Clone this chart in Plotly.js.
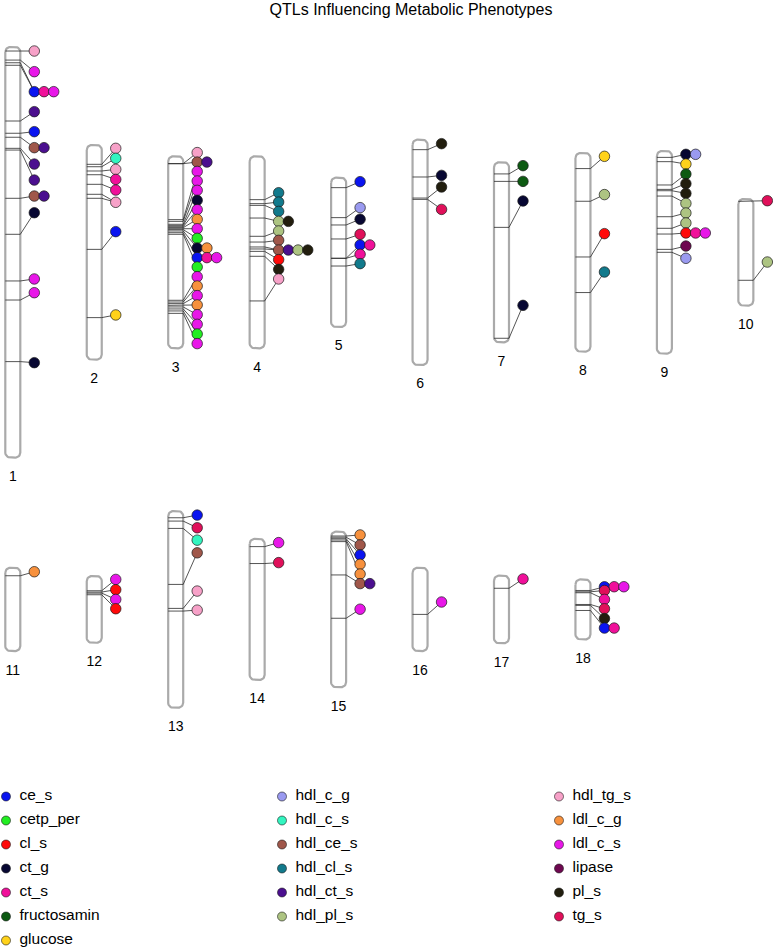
<!DOCTYPE html>
<html>
<head>
<meta charset="utf-8">
<script src="https://cdn.plot.ly/plotly-3.0.1.min.js"></script>
<style>
html,body{margin:0;padding:0;background:#ffffff;}
#chart{width:773px;height:949px;}
</style>
</head>
<body>
<div id="chart"></div>
<script>
// ---------------- DATA ----------------
const chartTitle = 'QTLs Influencing Metabolic Phenotypes';

const traitNames = ['ce_s','cetp_per','cl_s','ct_g','ct_s','fructosamin','glucose',
  'hdl_c_g','hdl_c_s','hdl_ce_s','hdl_cl_s','hdl_ct_s','hdl_pl_s',
  'hdl_tg_s','ldl_c_g','ldl_c_s','lipase','pl_s','tg_s'];
const traitColors = ['#0a14f0','#22ee22','#ff0a0a','#070732','#f0109a','#0d5a12','#ffd21a',
  '#9a9af0','#33f5c0','#a0574a','#127a8c','#4b0f8f','#adc482',
  '#f7a1c8','#f7913d','#e817e8','#6e0850','#221e0e','#e0105a'];

const chromNames = ['1','2','3','4','5','6','7','8','9','10','11','12','13','14','15','16','17','18'];
const chromLengthMb = [308,161,144,144,112,169,135,149,152,80,62.5,50,147.5,105.8,116.7,62.5,50.7,45];

// QTL positions on each chromosome (Mb from top) and the index of the phenotype row they link to
const qtlPosMb = [
  [3.0,9.8,11.8,13.7,55.5,64.7,67.7,76,77.3,113.5,140.5,175.5,189.8,236],
  [14.5,16.3,19.5,22.3,29.5,37,40,78.3,129.5],
  [5.5,5.5,47.5,48.8,51,52,52.8,53.5,54.3,55,56,57.3,58.5,108,109.3,110.5,111.8,113,114.5,116,117.8],
  [32.5,35.5,36.8,46.3,60,64.3,68,69.5,71.3,75,108.5],
  [7.5,30,35.5,46,60.5,60.5,66.3],
  [7.5,28,43.8,44.8],
  [8.7,14.3,48.8,132],
  [11.7,36.2,78,104.7],
  [4.8,8,25.5,28.8,29.8,33.8,49.3,58,62.3,73.8,76],
  [1.8,61],
  [6],
  [11,12,12.8,14],
  [5,7.5,13,55,73,75],
  [5.8,18.5],
  [3.3,4.2,5.3,6.3,7.5,32.5,65],
  [35],
  [9.5],
  [8.3,9.3,10,18.8,19.5,23.3]
];
const qtlGroup = [
  [0,1,2,2,3,4,5,6,7,8,9,10,11,12],
  [0,1,2,3,4,5,5,6,7],
  [0,1,2,3,4,5,6,7,8,9,10,11,12,13,14,15,16,17,18,19,20],
  [0,1,2,3,4,5,6,6,7,8,9],
  [0,1,2,3,4,5,6],
  [0,1,2,3],
  [0,1,2,3],
  [0,1,2,3],
  [0,1,2,3,4,5,6,7,8,9,10],
  [0,1],
  [0],
  [0,1,2,3],
  [0,1,2,3,4,5],
  [0,1],
  [0,1,2,3,4,5,6],
  [0],
  [0],
  [0,1,2,3,4,5]
];

// Phenotype rows: position (Mb from top) and traits in the row
const grpPosMb = [
  [3.0,18.5,33.5,48.5,63.5,75.5,87.8,99.8,111.8,124.3,174,184.3,236.8],
  [2.5,10,18.3,25.8,33.8,43,65,127.5],
  [-2.8,4.3,11.3,18.5,25.5,33,40,47.3,54.3,61.5,68.8,76,83,90.3,97.3,104.5,111.5,118.8,126,133.3,140.5],
  [27.3,34.3,41.3,48.8,56,63,70.3,77.5,84.8,92],
  [3,22.5,31.2,42.5,50.5,57.5,64.5],
  [3,26.8,35.5,52.3],
  [2.5,14.3,29,107.3],
  [2.5,31.2,60.5,89.3],
  [2.5,9.8,17.3,24.5,31.8,39.3,46.5,54,61.5,71.3,80.5],
  [1.3,47.3],
  [3],
  [2.5,10.2,17.5,24.5],
  [3,12.5,21.8,31.3,60,74.3],
  [2.8,17.8],
  [2.5,10,17.5,24.5,31.8,39,58.2],
  [25.7],
  [2.5],
  [5.5,8.3,15,22,29.3,36.5]
];
const grpTraits = [
  ['hdl_tg_s','ldl_c_s','ce_s ct_s ldl_c_s','hdl_ct_s','ce_s','hdl_ce_s hdl_ct_s','hdl_ct_s','hdl_ct_s','hdl_ce_s hdl_ct_s','ct_g','ldl_c_s','ldl_c_s','ct_g'],
  ['hdl_tg_s','hdl_c_s','hdl_tg_s','ct_s','ct_s','hdl_tg_s','ce_s','glucose'],
  ['hdl_tg_s','hdl_ce_s hdl_ct_s','ldl_c_s','ldl_c_s','ldl_c_s','ct_g','ldl_c_s','ldl_c_g','ldl_c_s','cetp_per','ct_g ldl_c_g','ce_s ct_s ldl_c_s','cetp_per','ldl_c_s','ldl_c_g','ldl_c_s','ldl_c_g','ldl_c_s','ldl_c_s','cetp_per','ldl_c_s'],
  ['hdl_cl_s','hdl_cl_s','hdl_cl_s','hdl_pl_s pl_s','hdl_pl_s','hdl_ce_s','hdl_ce_s hdl_ct_s hdl_pl_s pl_s','cl_s','pl_s','hdl_tg_s'],
  ['ce_s','hdl_c_g','ct_g','tg_s','ce_s ct_s','ct_s','hdl_cl_s'],
  ['pl_s','ct_g','pl_s','tg_s'],
  ['fructosamin','fructosamin','ct_g','ct_g'],
  ['glucose','hdl_pl_s','cl_s','hdl_cl_s'],
  ['ct_g hdl_c_g','glucose','fructosamin','pl_s','pl_s','hdl_pl_s','hdl_pl_s','hdl_pl_s','cl_s ct_s ldl_c_s','lipase','hdl_c_g'],
  ['tg_s','hdl_pl_s'],
  ['ldl_c_g'],
  ['ldl_c_s','cl_s','ldl_c_s','cl_s'],
  ['ce_s','tg_s','hdl_c_s','hdl_ce_s','hdl_tg_s','hdl_tg_s'],
  ['ldl_c_s','tg_s'],
  ['ldl_c_g','hdl_ce_s','ce_s','ldl_c_g','ldl_c_g','hdl_ce_s hdl_ct_s','ldl_c_s'],
  ['ldl_c_s'],
  ['ct_s'],
  ['ce_s ct_s ldl_c_s','tg_s','ct_s','tg_s','pl_s','ce_s ct_s']
];

// ---------------- LAYOUT CONSTANTS ----------------
const W = 773, H = 949;
const PX_PER_MB = 1.333;
const ROW_CENTER_PX = [252.3, 609.4];
const PER_ROW = 10;
const COL_X0 = 12.8, COL_STEP = 81.45;
const CHR_W = 15, CORNER = 5;
const DOT_GAP = 14, DOT_STEP = 9.7;
const LABEL_GAP_PX = 20;
const FONT = 'Liberation Sans, Arial, Helvetica, sans-serif';

const colorOf = {};
traitNames.forEach((t, i) => colorOf[t] = traitColors[i]);

// ---------------- BUILD TRACES ----------------
const outX = [], outY = [];
const qlX = [], qlY = [];
const dotX = [], dotY = [], dotC = [], dotT = [];
const labX = [], labY = [], labT = [];

chromNames.forEach((name, i) => {
  const row = i < PER_ROW ? 0 : 1;
  const col = i < PER_ROW ? i : i - PER_ROW;
  const len = chromLengthMb[i];
  const cx = COL_X0 + col * COL_STEP;
  const xl = cx - CHR_W / 2, xr = cx + CHR_W / 2;
  const top = ROW_CENTER_PX[row] / PX_PER_MB - len / 2;
  const bot = top + len;
  const rx = CORNER, ry = CORNER / PX_PER_MB;
  const N = 8;
  // rounded outline
  for (let k = 0; k <= N; k++) { const t = k / N * Math.PI / 2; outX.push(xl + rx - rx * Math.cos(t)); outY.push(top + ry - ry * Math.sin(t)); }
  for (let k = 0; k <= N; k++) { const t = k / N * Math.PI / 2; outX.push(xr - rx + rx * Math.sin(t)); outY.push(top + ry - ry * Math.cos(t)); }
  for (let k = 0; k <= N; k++) { const t = k / N * Math.PI / 2; outX.push(xr - rx + rx * Math.cos(t)); outY.push(bot - ry + ry * Math.sin(t)); }
  for (let k = 0; k <= N; k++) { const t = k / N * Math.PI / 2; outX.push(xl + rx - rx * Math.sin(t)); outY.push(bot - ry + ry * Math.cos(t)); }
  outX.push(outX[outX.length - 4 * (N + 1)]); outY.push(outY[outY.length - 4 * (N + 1)]);
  outX.push(null); outY.push(null);

  const dx0 = xr + DOT_GAP;
  // QTL lines and connectors
  qtlPosMb[i].forEach((p, j) => {
    const y = top + p;
    const gy = top + grpPosMb[i][qtlGroup[i][j]];
    qlX.push(xl, xr, dx0, null);
    qlY.push(y, y, gy, null);
  });
  // phenotype circles
  grpPosMb[i].forEach((p, g) => {
    grpTraits[i][g].split(' ').forEach((t, k) => {
      dotX.push(dx0 + k * DOT_STEP);
      dotY.push(top + p);
      dotC.push(colorOf[t]);
      dotT.push(t);
    });
  });
  labX.push(cx);
  labY.push(bot + LABEL_GAP_PX / PX_PER_MB);
  labT.push(name);
});

const traces = [
  {x: outX, y: outY, mode: 'lines', fill: 'toself', fillcolor: '#ffffff',
   line: {color: '#aaaaaa', width: 2.2}, hoverinfo: 'skip', showlegend: false},
  {x: qlX, y: qlY, mode: 'lines', line: {color: '#2a2a2a', width: 0.8},
   hoverinfo: 'skip', showlegend: false},
  {x: dotX, y: dotY, mode: 'markers', text: dotT, hoverinfo: 'text',
   marker: {size: 10.5, color: dotC, line: {color: '#1a1a1a', width: 0.7}}, showlegend: false},
  {x: labX, y: labY, mode: 'text', text: labT, textposition: 'middle center',
   textfont: {family: FONT, size: 14, color: '#000000'}, hoverinfo: 'skip', showlegend: false}
];

// ---------------- LEGEND (3 columns) ----------------
const LEG_COL_X = [6, 282, 559];
const LEG_ROW_Y0 = 796.5, LEG_ROW_STEP = 24;
const LEG_COL_BREAKS = [0, 7, 13, 19];
const legX = [], legY = [], legC = [], txtX = [], txtY = [], txtT = [];
for (let c = 0; c < 3; c++) {
  for (let i = LEG_COL_BREAKS[c]; i < LEG_COL_BREAKS[c + 1]; i++) {
    const r = i - LEG_COL_BREAKS[c];
    legX.push(LEG_COL_X[c]); legY.push(LEG_ROW_Y0 + r * LEG_ROW_STEP); legC.push(traitColors[i]);
    txtX.push(LEG_COL_X[c] + 13.5); txtY.push(LEG_ROW_Y0 + r * LEG_ROW_STEP); txtT.push(traitNames[i]);
  }
}
traces.push({x: legX, y: legY, yaxis: 'y2', mode: 'markers',
  marker: {size: 9, color: legC, line: {color: '#1a1a1a', width: 0.6}}, hoverinfo: 'skip', showlegend: false});
traces.push({x: txtX, y: txtY, yaxis: 'y2', mode: 'text', text: txtT, textposition: 'middle right',
  textfont: {family: FONT, size: 15.5, color: '#000000'}, hoverinfo: 'skip', showlegend: false});

const layout = {
  width: W, height: H,
  margin: {l: 0, r: 0, t: 0, b: 0, pad: 0},
  paper_bgcolor: '#ffffff', plot_bgcolor: '#ffffff',
  showlegend: false,
  title: {text: chartTitle, x: 411 / W, xanchor: 'center', y: 1 - 9 / H, yanchor: 'middle',
          font: {family: FONT, size: 16, color: '#000000'}},
  xaxis: {range: [0, W], visible: false, fixedrange: true},
  yaxis: {range: [H / PX_PER_MB, 0], visible: false, fixedrange: true},
  yaxis2: {range: [H, 0], overlaying: 'y', visible: false, fixedrange: true},
  hovermode: 'closest'
};

Plotly.newPlot('chart', traces, layout, {displayModeBar: false, staticPlot: true});
</script>
</body>
</html>
